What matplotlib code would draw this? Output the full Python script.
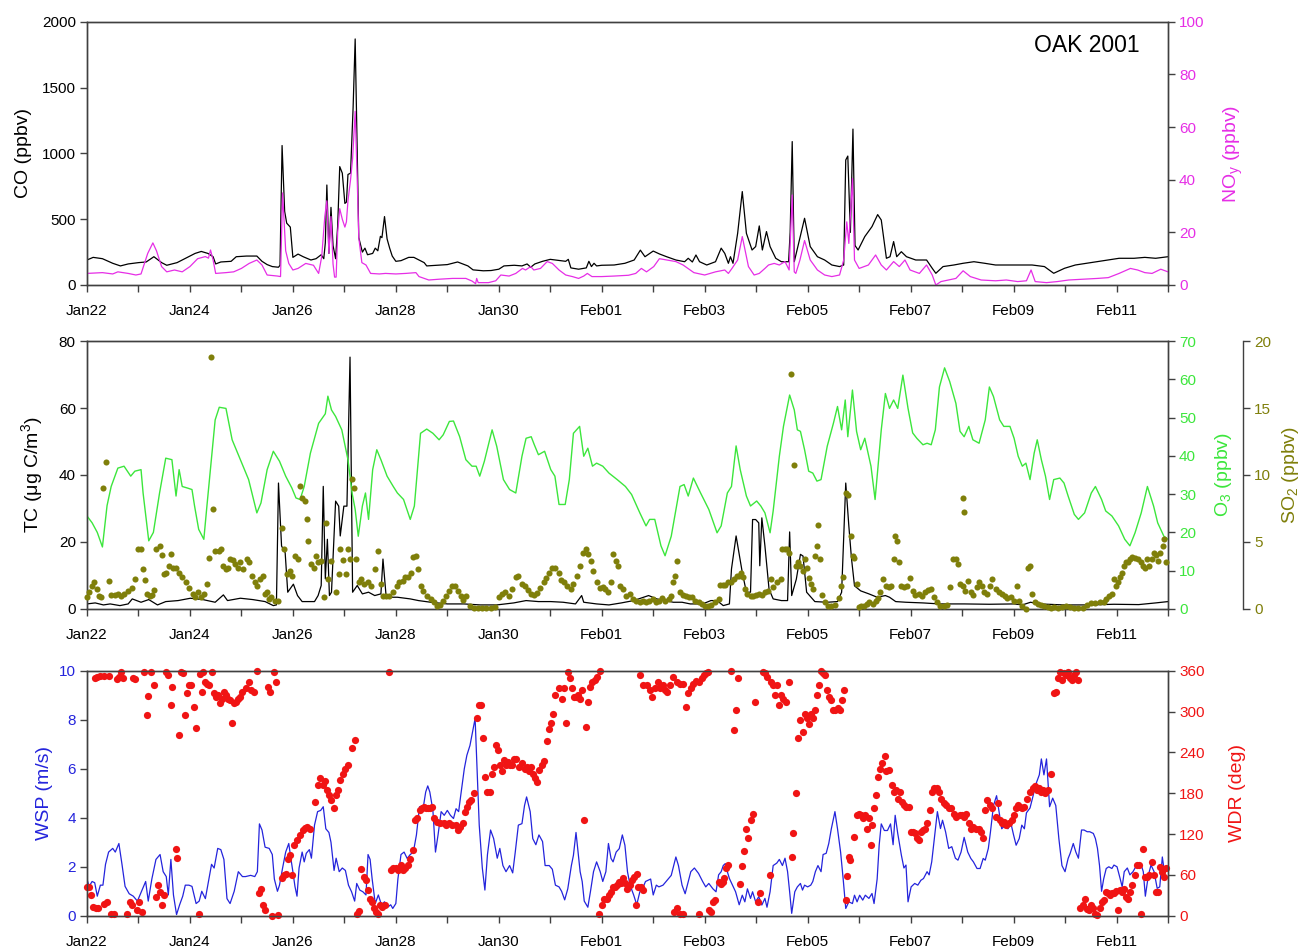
import datetime as dt
import numpy as np
import matplotlib
matplotlib.use("Agg")
import matplotlib.pyplot as plt
import matplotlib.dates as mdates

# --- CONFIGURATION ---
OUTPUT_IMAGE_FILE = "out.png"
START = dt.datetime(2001, 1, 22)
N_DAYS = 21

C_CO = "black"
C_NOY = "#E62EE6"
C_O3 = "#3CE63C"
C_TC = "black"
C_SO2 = "#7F7F0A"
C_WSP = "#2424DC"
C_WDR = "#F01414"
C_SPINE = "#404040"

# (days since Jan22 00:00, value)
CO = [(0.00, 190), (0.12, 210), (0.30, 200), (0.50, 165), (0.65, 145), (0.80, 160), (1.00, 170),
      (1.15, 175), (1.30, 215), (1.45, 170), (1.55, 150), (1.75, 170), (1.90, 200), (2.10, 240),
      (2.22, 255), (2.35, 240), (2.45, 215), (2.50, 160), (2.60, 175), (2.80, 180), (2.90, 215),
      (3.10, 220), (3.30, 220), (3.40, 180), (3.50, 155), (3.60, 140), (3.72, 135), (3.75, 150),
      (3.79, 1060), (3.84, 560), (3.88, 470), (3.95, 440), (4.00, 210), (4.10, 235), (4.20, 215),
      (4.35, 190), (4.45, 200), (4.55, 230), (4.60, 200), (4.63, 320), (4.66, 760), (4.70, 240),
      (4.74, 590), (4.78, 300), (4.83, 200), (4.87, 450), (4.91, 900), (4.96, 850), (5.01, 620),
      (5.04, 630), (5.07, 840), (5.12, 850), (5.17, 1350), (5.21, 1870), (5.25, 1000), (5.28, 360),
      (5.35, 250), (5.40, 280), (5.45, 230), (5.55, 240), (5.60, 280), (5.65, 260), (5.70, 370),
      (5.73, 360), (5.78, 520), (5.83, 350), (5.88, 280), (5.93, 220), (6.00, 180), (6.10, 185),
      (6.25, 210), (6.35, 210), (6.45, 190), (6.55, 170), (6.60, 145), (6.80, 150), (7.00, 155),
      (7.10, 165), (7.20, 175), (7.30, 160), (7.40, 145), (7.50, 115), (7.70, 108), (7.85, 110),
      (8.00, 120), (8.10, 145), (8.30, 150), (8.45, 145), (8.55, 160), (8.62, 135), (8.70, 160),
      (8.85, 180), (9.00, 195), (9.10, 190), (9.20, 185), (9.30, 180), (9.35, 195), (9.40, 130),
      (9.55, 120), (9.70, 130), (9.75, 180), (9.80, 140), (9.85, 165), (9.90, 145), (10.00, 150),
      (10.24, 152), (10.45, 165), (10.63, 190), (10.75, 265), (10.84, 215), (11.00, 258),
      (11.12, 236), (11.26, 215), (11.44, 190), (11.61, 177), (11.68, 203), (11.76, 175),
      (11.83, 228), (11.90, 177), (12.04, 152), (12.21, 177), (12.32, 280), (12.39, 240),
      (12.46, 165), (12.50, 215), (12.55, 165), (12.64, 393), (12.73, 710), (12.81, 393),
      (12.92, 266), (12.99, 292), (13.06, 449), (13.12, 266), (13.20, 406), (13.27, 292),
      (13.38, 203), (13.49, 177), (13.63, 177), (13.66, 400), (13.70, 1090), (13.74, 177),
      (13.87, 393), (13.94, 507), (14.05, 292), (14.19, 215), (14.33, 190), (14.47, 152),
      (14.62, 140), (14.70, 152), (14.74, 950), (14.78, 980), (14.83, 400), (14.88, 1185),
      (14.92, 300), (14.98, 266), (15.11, 368), (15.25, 444), (15.36, 535), (15.43, 494),
      (15.53, 203), (15.60, 215), (15.67, 330), (15.73, 215), (15.82, 253), (15.92, 215),
      (16.10, 190), (16.31, 190), (16.42, 127), (16.49, 89), (16.63, 140), (16.84, 152),
      (17.02, 165), (17.23, 177), (17.44, 165), (17.65, 152), (17.86, 152), (18.14, 152),
      (18.36, 152), (18.60, 140), (18.78, 89), (18.99, 127), (19.20, 152), (19.42, 165),
      (19.63, 177), (19.84, 190), (20.05, 203), (20.34, 203), (20.55, 210), (20.76, 203),
      (21.00, 215)]

NOY = [(0.00, 4.4), (0.30, 4.7), (0.50, 4.2), (0.60, 5.0), (0.80, 4.4), (0.95, 3.8), (1.05, 4.2),
       (1.18, 12), (1.28, 16), (1.35, 13), (1.45, 7), (1.55, 5), (1.70, 5.7), (1.85, 5), (2.00, 7),
       (2.15, 10), (2.30, 10.8), (2.36, 10.2), (2.40, 13.3), (2.45, 9.5), (2.50, 4.4), (2.70, 4.7),
       (2.85, 5), (3.00, 6.3), (3.15, 8.2), (3.30, 9.5), (3.40, 7.6), (3.50, 3.8), (3.70, 3.4),
       (3.76, 3.2), (3.80, 35), (3.86, 13), (3.92, 8.2), (4.00, 5.7), (4.10, 6.3), (4.25, 8.2),
       (4.40, 7.5), (4.50, 4.4), (4.56, 10.8), (4.62, 26), (4.66, 32), (4.70, 12), (4.74, 26),
       (4.78, 8), (4.81, 3), (4.84, 3), (4.87, 20), (4.91, 29), (4.96, 25), (5.01, 22), (5.04, 24),
       (5.07, 32), (5.12, 40), (5.16, 48), (5.21, 66), (5.25, 40), (5.28, 18), (5.34, 8.5),
       (5.42, 7.6), (5.51, 4.4), (5.68, 4.2), (5.80, 4.4), (6.00, 4.2), (6.19, 4.4), (6.39, 4.7),
       (6.45, 3.2), (6.64, 1.9), (6.84, 2.2), (7.10, 2.5), (7.36, 2.5), (7.48, 1.5), (7.55, 0.5),
       (7.57, 2.5), (7.60, 0.9), (7.80, 0.9), (7.94, 1.6), (8.04, 3.8), (8.20, 3.4), (8.33, 4.4),
       (8.46, 6.3), (8.52, 5.7), (8.62, 7), (8.68, 5.7), (8.81, 6.3), (8.94, 8.9), (9.04, 8.2),
       (9.17, 5.7), (9.30, 3.8), (9.43, 3.2), (9.55, 2.5), (9.65, 3.4), (9.72, 4.4), (9.81, 3.2),
       (10.00, 3.2), (10.24, 3.4), (10.52, 3.7), (10.66, 4.4), (10.77, 6.3), (10.87, 5),
       (11.01, 7), (11.12, 10), (11.26, 9.5), (11.44, 8.9), (11.58, 7.6), (11.79, 4.7), (12.00, 3.8),
       (12.21, 5), (12.39, 5.7), (12.46, 4.4), (12.53, 6.3), (12.64, 9.5), (12.73, 18.4),
       (12.85, 7), (12.96, 3.8), (13.06, 4.4), (13.17, 6.3), (13.24, 7.6), (13.35, 8.2),
       (13.45, 7.6), (13.56, 8.9), (13.64, 5.7), (13.70, 34.2), (13.74, 5), (13.77, 4.4),
       (13.85, 9.5), (13.94, 16.9), (14.05, 9.5), (14.19, 5.7), (14.33, 3.8), (14.47, 3.2),
       (14.62, 3.8), (14.70, 9.5), (14.76, 24), (14.80, 15.8), (14.87, 40.5), (14.91, 9.5),
       (15.00, 6.3), (15.18, 7.6), (15.32, 11.4), (15.43, 7.6), (15.53, 5.7), (15.67, 8.9),
       (15.78, 7), (15.89, 9.5), (15.99, 5.7), (16.17, 4.4), (16.31, 7.6), (16.42, 3.8),
       (16.49, 0), (16.59, 1.3), (16.73, 1.9), (16.88, 2.5), (17.02, 5.4), (17.16, 3.2),
       (17.37, 1.9), (17.65, 1.6), (17.86, 1.9), (18.08, 1.3), (18.25, 1.6), (18.34, 5.7),
       (18.42, 1.3), (18.64, 0.9), (18.85, 1.3), (19.07, 1.9), (19.35, 2.2), (19.63, 2.5),
       (19.84, 2.8), (20.05, 4.4), (20.27, 6.3), (20.41, 5.7), (20.55, 4.7), (20.69, 4.4),
       (20.86, 6), (21.00, 5)]

TC = [(0.00, 1.5), (0.16, 1.8), (0.32, 1.2), (0.45, 1.5), (0.64, 1.0), (0.80, 1.5), (0.88, 3.0),
      (1.05, 2.0), (1.20, 2.8), (1.37, 1.2), (1.53, 2.2), (1.77, 2.5), (2.01, 3.2), (2.25, 2.8),
      (2.49, 2.0), (2.65, 4.2), (2.73, 2.5), (2.98, 3.2), (3.22, 2.8), (3.46, 2.2), (3.62, 1.0),
      (3.68, 1.2), (3.72, 37.6), (3.78, 18.8), (3.85, 16.8), (3.90, 5.0), (4.01, 7.4), (4.09, 4.0),
      (4.18, 2.2), (4.42, 2.2), (4.49, 4.0), (4.55, 7.0), (4.59, 36.6), (4.63, 9.0), (4.67, 20.8),
      (4.71, 4.0), (4.75, 5.0), (4.83, 32.2), (4.89, 30.7), (4.92, 21.8), (4.99, 30.7),
      (5.05, 30.7), (5.11, 75.2), (5.16, 5.0), (5.25, 7.0), (5.35, 4.5), (5.47, 5.0), (5.59, 4.0),
      (5.71, 4.5), (5.75, 14.9), (5.81, 4.0), (5.91, 3.5), (6.03, 3.5), (6.28, 3.0), (6.44, 2.5),
      (6.68, 2.0), (7.00, 1.5), (7.32, 1.5), (7.64, 1.2), (7.96, 1.2), (8.29, 1.8), (8.53, 2.5),
      (8.77, 2.2), (9.01, 2.2), (9.25, 2.0), (9.49, 1.5), (9.61, 4.0), (9.65, 2.0), (9.90, 1.5),
      (10.14, 1.2), (10.38, 1.8), (10.62, 2.5), (10.91, 4.0), (11.07, 3.0), (11.23, 2.5),
      (11.39, 2.0), (11.56, 2.0), (11.72, 1.5), (11.96, 1.5), (12.12, 2.5), (12.24, 2.5),
      (12.36, 1.0), (12.48, 1.5), (12.52, 11.9), (12.61, 21.8), (12.73, 10.9), (12.81, 5.0),
      (12.89, 5.0), (12.93, 26.7), (12.99, 26.7), (13.05, 25.7), (13.07, 12.9), (13.11, 27.2),
      (13.17, 18.8), (13.25, 5.9), (13.33, 3.0), (13.49, 2.5), (13.61, 2.5), (13.65, 23.0),
      (13.69, 4.0), (13.78, 8.9), (13.86, 16.3), (13.91, 15.8), (13.98, 5.0), (14.14, 2.2),
      (14.38, 2.0), (14.58, 2.2), (14.66, 5.0), (14.74, 37.6), (14.80, 24.8), (14.85, 15.3),
      (14.91, 6.9), (15.03, 5.4), (15.19, 4.5), (15.35, 3.5), (15.51, 4.0), (15.59, 3.5),
      (15.71, 2.2), (15.91, 2.0), (16.24, 1.8), (16.56, 1.5), (17.04, 1.5), (17.53, 1.4),
      (18.01, 1.5), (18.17, 1.2), (18.33, 2.0), (18.50, 1.5), (18.98, 1.2), (19.47, 1.2),
      (19.95, 1.4), (20.43, 1.3), (20.76, 1.8), (21.00, 2.2)]

O3 = [(0.00, 24.3), (0.10, 22.5), (0.20, 20), (0.30, 16.2), (0.39, 27), (0.47, 32), (0.60, 36.8),
      (0.72, 37.3), (0.85, 34.7), (0.93, 36), (1.05, 36.4), (1.09, 30.3), (1.20, 17.8), (1.29, 20),
      (1.41, 30.3), (1.53, 39.4), (1.65, 39), (1.73, 29.5), (1.79, 36.4), (1.85, 32), (1.95, 31.6),
      (2.04, 31.2), (2.09, 26.9), (2.17, 20.8), (2.27, 18.2), (2.33, 26.9), (2.41, 38.1),
      (2.49, 49.4), (2.57, 52.7), (2.70, 52.4), (2.82, 44.2), (2.98, 39), (3.14, 33.8),
      (3.30, 25.1), (3.38, 27.7), (3.50, 36.4), (3.62, 41.2), (3.74, 38.6), (3.86, 34.7),
      (3.98, 31.6), (4.06, 29), (4.14, 28.6), (4.22, 32), (4.34, 40.7), (4.50, 48.5), (4.63, 51),
      (4.68, 55.6), (4.75, 52), (4.83, 50.3), (4.95, 46.8), (5.07, 39), (5.15, 30.3), (5.21, 26),
      (5.27, 19), (5.35, 26.9), (5.41, 30.3), (5.47, 23.4), (5.55, 36.4), (5.63, 41.6), (5.71, 39),
      (5.83, 34.7), (5.95, 32), (6.03, 30.3), (6.15, 28.6), (6.28, 23.4), (6.36, 26.9),
      (6.48, 45.9), (6.60, 47), (6.72, 45.9), (6.84, 44.2), (6.92, 45.5), (7.04, 49), (7.12, 49.1),
      (7.24, 45), (7.36, 39), (7.48, 37.3), (7.56, 37.3), (7.63, 34.7), (7.72, 38.6), (7.87, 46.8),
      (7.96, 42.5), (8.09, 33.8), (8.21, 31.2), (8.33, 30.3), (8.45, 39.9), (8.53, 44.6),
      (8.63, 45), (8.69, 42.9), (8.77, 40.3), (8.89, 41.2), (9.01, 36.4), (9.09, 34.7),
      (9.17, 27.3), (9.29, 27.3), (9.37, 33.8), (9.45, 45.9), (9.57, 47.7), (9.65, 39.9),
      (9.73, 42), (9.82, 37.3), (9.90, 38.1), (10.02, 37.3), (10.14, 35.5), (10.30, 33.8),
      (10.46, 32), (10.58, 29.9), (10.74, 25.1), (10.86, 21.7), (10.93, 23.4), (11.03, 23.4),
      (11.15, 16.5), (11.23, 13.9), (11.35, 19), (11.52, 32), (11.60, 32.5), (11.68, 29.5),
      (11.78, 34.2), (11.92, 30.3), (12.08, 26), (12.24, 19.9), (12.32, 21.7), (12.44, 30.3),
      (12.52, 32), (12.61, 42.6), (12.69, 36.4), (12.81, 29.5), (12.89, 26.9), (13.01, 28.2),
      (13.09, 26.9), (13.17, 25.1), (13.27, 19.9), (13.33, 25.6), (13.45, 39.9), (13.53, 47.7),
      (13.65, 55.9), (13.74, 52), (13.80, 46.8), (13.86, 46.4), (13.94, 41.6), (14.02, 36),
      (14.10, 35.5), (14.18, 33.4), (14.26, 33.8), (14.38, 42.5), (14.50, 48.5), (14.58, 52.9),
      (14.66, 46.8), (14.73, 54.6), (14.78, 45), (14.87, 57.2), (14.95, 46.4), (15.03, 41.6),
      (15.11, 44.6), (15.23, 37.3), (15.31, 28.6), (15.43, 46.8), (15.51, 56.3), (15.59, 52.4),
      (15.67, 54.6), (15.75, 52.4), (15.85, 61.1), (15.95, 52.4), (16.04, 46), (16.12, 44.6),
      (16.24, 42.9), (16.32, 43.3), (16.40, 42.9), (16.48, 46.8), (16.56, 58), (16.66, 63),
      (16.76, 59.4), (16.88, 53.7), (16.96, 46.4), (17.04, 45), (17.13, 47.7), (17.21, 44.2),
      (17.33, 43.3), (17.45, 49.4), (17.53, 58), (17.61, 55.5), (17.73, 49.4), (17.81, 47.7),
      (17.93, 47.7), (18.01, 44.6), (18.09, 39.9), (18.17, 37.3), (18.24, 38.1), (18.32, 33.8),
      (18.40, 40.7), (18.46, 44.2), (18.54, 39), (18.62, 34.7), (18.70, 28.6), (18.78, 33.8),
      (18.90, 34.2), (18.98, 32.9), (19.06, 29.5), (19.18, 24.7), (19.26, 23.4), (19.38, 25.1),
      (19.51, 30.3), (19.59, 32), (19.71, 28.6), (19.79, 25.6), (19.91, 24.3), (20.04, 21.7),
      (20.16, 18.2), (20.26, 16.5), (20.36, 19.9), (20.48, 25.1), (20.60, 32), (20.72, 26.9),
      (20.80, 22.5), (20.92, 19), (21.00, 18.2)]

SO2 = [(0.00, 0.87), (0.04, 1.24), (0.10, 1.73), (0.14, 1.98), (0.20, 1.49), (0.24, 0.99),
       (0.28, 0.87), (0.32, 9.03), (0.37, 10.94), (0.42, 2.10), (0.47, 1.04), (0.55, 1.04),
       (0.60, 1.11), (0.66, 0.99), (0.72, 1.11), (0.80, 1.36), (0.87, 1.53), (0.93, 2.23),
       (0.99, 4.50), (1.05, 4.46), (1.09, 2.97), (1.13, 2.18), (1.17, 1.11), (1.22, 0.99),
       (1.27, 1.04), (1.30, 1.44), (1.35, 4.46), (1.41, 4.70), (1.46, 4.01), (1.49, 2.60),
       (1.53, 2.72), (1.59, 3.22), (1.63, 4.08), (1.67, 3.09), (1.73, 3.09), (1.79, 2.72),
       (1.85, 2.35), (1.93, 1.98), (1.99, 1.53), (2.05, 1.11), (2.09, 0.87), (2.16, 1.24),
       (2.21, 0.87), (2.27, 1.11), (2.33, 1.86), (2.37, 3.84), (2.41, 18.81), (2.45, 7.48),
       (2.49, 4.33), (2.56, 4.33), (2.61, 4.46), (2.65, 3.22), (2.70, 2.97), (2.74, 3.09),
       (2.78, 3.71), (2.83, 3.66), (2.88, 3.34), (2.94, 3.09), (2.98, 3.47), (3.04, 2.97),
       (3.10, 3.71), (3.14, 3.47), (3.20, 2.48), (3.26, 1.98), (3.30, 1.73), (3.36, 2.23),
       (3.42, 2.48), (3.46, 1.11), (3.50, 1.24), (3.54, 0.74), (3.58, 0.87), (3.66, 0.62),
       (3.72, 0.62), (3.78, 6.06), (3.83, 4.46), (3.88, 2.60), (3.94, 2.85), (3.98, 2.48),
       (4.04, 3.96), (4.09, 3.71), (4.14, 9.16), (4.18, 8.29), (4.23, 8.04), (4.28, 6.68),
       (4.30, 5.07), (4.36, 3.34), (4.41, 3.09), (4.44, 3.96), (4.49, 3.47), (4.55, 3.59),
       (4.60, 0.87), (4.65, 6.39), (4.68, 2.23), (4.75, 3.59), (4.83, 1.24), (4.89, 2.60),
       (4.92, 4.46), (4.97, 3.66), (5.03, 2.60), (5.07, 4.46), (5.11, 3.71), (5.15, 9.70),
       (5.19, 9.03), (5.23, 3.71), (5.29, 1.98), (5.33, 2.23), (5.39, 1.86), (5.45, 1.98),
       (5.51, 1.68), (5.59, 2.97), (5.65, 4.33), (5.71, 1.86), (5.75, 0.99), (5.81, 0.94),
       (5.87, 0.99), (5.95, 1.24), (6.02, 1.73), (6.07, 1.98), (6.13, 2.10), (6.18, 2.35),
       (6.23, 2.35), (6.29, 2.72), (6.34, 3.91), (6.40, 3.96), (6.44, 2.97), (6.48, 1.73),
       (6.53, 1.36), (6.60, 0.99), (6.68, 0.74), (6.74, 0.50), (6.80, 0.25), (6.85, 0.30),
       (6.92, 0.62), (6.98, 0.99), (7.04, 1.36), (7.10, 1.73), (7.14, 1.73), (7.20, 1.36),
       (7.26, 0.99), (7.30, 0.69), (7.36, 0.99), (7.44, 0.25), (7.52, 0.05), (7.60, 0.05),
       (7.68, 0.05), (7.76, 0.05), (7.84, 0.05), (7.92, 0.12), (8.00, 0.87), (8.06, 1.11),
       (8.13, 1.24), (8.19, 0.94), (8.25, 1.49), (8.33, 2.35), (8.38, 2.48), (8.45, 1.86),
       (8.51, 1.73), (8.57, 1.44), (8.62, 1.11), (8.69, 1.04), (8.75, 1.19), (8.81, 1.53),
       (8.87, 1.98), (8.91, 2.28), (8.97, 2.72), (9.03, 3.09), (9.09, 3.09), (9.16, 2.72),
       (9.21, 2.18), (9.27, 1.98), (9.33, 1.73), (9.40, 1.49), (9.45, 1.86), (9.51, 2.48),
       (9.57, 3.22), (9.64, 4.21), (9.69, 4.46), (9.73, 4.08), (9.80, 3.59), (9.83, 2.85),
       (9.90, 1.98), (9.96, 1.53), (10.02, 1.61), (10.06, 1.49), (10.12, 1.24), (10.18, 1.98),
       (10.22, 4.08), (10.27, 3.59), (10.31, 3.22), (10.36, 1.73), (10.42, 1.49), (10.47, 0.99),
       (10.54, 1.11), (10.60, 0.74), (10.66, 0.62), (10.74, 0.54), (10.80, 0.62), (10.86, 0.54),
       (10.91, 0.62), (10.99, 0.74), (11.06, 0.54), (11.11, 0.62), (11.18, 0.79), (11.23, 0.62),
       (11.30, 0.74), (11.35, 0.94), (11.39, 1.98), (11.43, 2.48), (11.47, 3.59), (11.52, 1.24),
       (11.57, 1.04), (11.64, 0.99), (11.70, 0.87), (11.76, 0.87), (11.81, 0.62), (11.88, 0.50),
       (11.94, 0.37), (12.00, 0.25), (12.06, 0.20), (12.12, 0.30), (12.20, 0.50), (12.27, 0.74),
       (12.30, 1.78), (12.35, 1.78), (12.40, 1.78), (12.46, 1.98), (12.52, 1.98), (12.56, 2.23),
       (12.62, 2.48), (12.67, 2.48), (12.70, 2.72), (12.75, 2.35), (12.78, 1.49), (12.83, 1.11),
       (12.89, 0.99), (12.94, 0.99), (12.99, 1.04), (13.05, 1.11), (13.11, 1.04), (13.17, 1.24),
       (13.23, 1.36), (13.29, 2.23), (13.33, 1.61), (13.41, 1.98), (13.48, 2.23), (13.51, 4.46),
       (13.56, 4.46), (13.60, 4.46), (13.64, 4.21), (13.67, 17.57), (13.73, 10.77), (13.78, 3.22),
       (13.82, 3.47), (13.86, 3.22), (13.90, 2.85), (13.94, 3.76), (13.98, 3.02), (14.02, 2.28),
       (14.06, 1.86), (14.10, 1.49), (14.14, 3.96), (14.18, 4.70), (14.20, 6.24), (14.24, 3.71),
       (14.28, 1.04), (14.34, 0.54), (14.40, 0.25), (14.46, 0.20), (14.54, 0.30), (14.61, 0.79),
       (14.64, 1.73), (14.69, 2.35), (14.74, 8.66), (14.78, 8.54), (14.85, 5.45), (14.88, 3.96),
       (14.91, 3.84), (14.95, 1.86), (14.99, 0.12), (15.04, 0.20), (15.09, 0.25), (15.15, 0.37),
       (15.20, 0.50), (15.27, 0.37), (15.32, 0.62), (15.37, 0.79), (15.41, 1.24), (15.47, 2.23),
       (15.53, 1.73), (15.58, 1.61), (15.62, 1.73), (15.67, 3.71), (15.70, 5.45), (15.74, 5.07),
       (15.77, 3.51), (15.82, 1.73), (15.87, 1.61), (15.93, 1.73), (15.98, 2.28), (16.04, 1.36),
       (16.09, 1.04), (16.16, 1.11), (16.22, 0.99), (16.28, 1.24), (16.33, 1.44), (16.40, 1.49),
       (16.46, 0.87), (16.52, 0.50), (16.58, 0.25), (16.64, 0.20), (16.71, 0.30), (16.77, 1.61),
       (16.82, 3.76), (16.88, 3.76), (16.92, 3.34), (16.96, 1.86), (17.01, 1.73), (17.02, 8.29),
       (17.03, 7.23), (17.06, 1.36), (17.11, 2.10), (17.17, 1.24), (17.22, 1.04), (17.29, 1.61),
       (17.33, 1.98), (17.38, 1.73), (17.43, 1.24), (17.49, 1.11), (17.54, 1.73), (17.59, 2.23),
       (17.65, 1.49), (17.71, 1.24), (17.77, 1.11), (17.83, 0.99), (17.88, 0.79), (17.95, 0.87),
       (18.01, 0.62), (18.06, 1.73), (18.11, 0.62), (18.17, 0.25), (18.24, 0.00), (18.29, 3.09),
       (18.32, 3.22), (18.35, 1.11), (18.42, 0.54), (18.48, 0.37), (18.54, 0.30), (18.59, 0.25),
       (18.66, 0.12), (18.72, 0.05), (18.78, 0.12), (18.86, 0.05), (18.94, 0.12), (19.02, 0.25),
       (19.10, 0.12), (19.18, 0.05), (19.26, 0.05), (19.34, 0.10), (19.42, 0.30), (19.51, 0.45),
       (19.59, 0.45), (19.67, 0.50), (19.75, 0.54), (19.79, 0.74), (19.85, 0.94), (19.91, 1.11),
       (19.95, 2.23), (19.99, 1.73), (20.03, 1.98), (20.07, 2.35), (20.11, 2.67), (20.15, 3.22),
       (20.19, 3.47), (20.23, 3.51), (20.27, 3.71), (20.31, 3.91), (20.35, 3.84), (20.42, 3.71),
       (20.47, 3.51), (20.51, 3.22), (20.55, 3.09), (20.59, 3.71), (20.64, 3.22), (20.68, 3.76),
       (20.72, 4.21), (20.76, 4.01), (20.80, 3.59), (20.85, 4.21), (20.90, 4.70), (20.93, 5.20),
       (20.97, 3.47)]

WSP = [(0.00, 1.5), (0.04, 1.2), (0.10, 1.4), (0.15, 1.35), (0.20, 0.8), (0.26, 1.25), (0.31, 1.25),
       (0.36, 2.1), (0.42, 2.6), (0.50, 2.75), (0.55, 2.6), (0.62, 2.95), (0.68, 2.1), (0.74, 1.2),
       (0.82, 0.9), (0.90, 0.8), (0.98, 0.6), (1.06, 1.0), (1.14, 1.4), (1.19, 0.6), (1.26, 1.5),
       (1.34, 2.3), (1.42, 2.5), (1.48, 1.8), (1.54, 1.6), (1.58, 0.85), (1.63, 2.3), (1.68, 0.85),
       (1.74, 0.05), (1.80, 0.45), (1.86, 0.8), (1.91, 1.25), (1.98, 1.25), (2.04, 1.2),
       (2.12, 0.5), (2.18, 0.6), (2.23, 1.0), (2.30, 0.7), (2.36, 1.4), (2.42, 2.1), (2.47, 1.95),
       (2.54, 2.75), (2.60, 2.7), (2.66, 2.3), (2.72, 0.7), (2.78, 0.5), (2.86, 1.0), (2.94, 1.8),
       (3.02, 1.6), (3.08, 1.6), (3.18, 1.65), (3.26, 1.6), (3.31, 1.8), (3.35, 3.75), (3.40, 3.5),
       (3.46, 2.8), (3.54, 2.75), (3.60, 2.5), (3.64, 1.5), (3.70, 1.0), (3.74, 1.25), (3.80, 1.95),
       (3.86, 2.6), (3.92, 2.95), (3.96, 2.35), (4.00, 1.8), (4.04, 1.2), (4.08, 0.8), (4.12, 1.95),
       (4.18, 2.6), (4.22, 2.2), (4.26, 2.55), (4.32, 2.7), (4.36, 2.35), (4.42, 3.7), (4.48, 4.25),
       (4.54, 4.3), (4.59, 4.45), (4.64, 3.55), (4.70, 3.4), (4.74, 3.0), (4.80, 1.85),
       (4.84, 2.35), (4.90, 1.8), (4.96, 1.95), (5.02, 1.85), (5.08, 1.25), (5.14, 0.98),
       (5.20, 0.6), (5.24, 1.32), (5.30, 1.05), (5.36, 0.98), (5.42, 0.85), (5.46, 2.5), (5.50, 2.3),
       (5.54, 1.5), (5.60, 0.5), (5.66, 0.85), (5.72, 0.45), (5.78, 0.57), (5.84, 0.35), (5.90, 0.45),
       (5.94, 0.3), (6.00, 0.5), (6.04, 1.5), (6.10, 2.5), (6.16, 2.6), (6.22, 2.34), (6.28, 2.5),
       (6.34, 2.6), (6.40, 3.3), (6.46, 4.45), (6.52, 4.25), (6.58, 5.05), (6.62, 5.3), (6.66, 5.05),
       (6.72, 4.3), (6.77, 2.6), (6.82, 3.3), (6.88, 4.25), (6.94, 4.1), (7.00, 4.3), (7.06, 4.1),
       (7.12, 3.97), (7.17, 4.37), (7.22, 4.25), (7.26, 4.9), (7.33, 6.0), (7.38, 6.55),
       (7.44, 6.95), (7.49, 7.5), (7.54, 8.05), (7.58, 5.9), (7.62, 3.7), (7.68, 1.95), (7.73, 1.05),
       (7.78, 2.5), (7.84, 3.5), (7.90, 3.15), (7.97, 2.35), (8.02, 2.75), (8.08, 2.05), (8.14, 1.8),
       (8.21, 2.05), (8.27, 1.75), (8.32, 2.6), (8.38, 3.7), (8.45, 3.76), (8.50, 4.5), (8.54, 4.85),
       (8.61, 4.25), (8.66, 3.15), (8.72, 2.9), (8.78, 3.3), (8.85, 3.03), (8.90, 2.05),
       (8.98, 2.05), (9.04, 1.9), (9.10, 1.25), (9.17, 1.18), (9.22, 1.0), (9.28, 0.65), (9.34, 1.1),
       (9.41, 2.05), (9.45, 2.47), (9.50, 3.4), (9.54, 2.6), (9.58, 1.8), (9.62, 1.4), (9.66, 0.6),
       (9.73, 0.35), (9.78, 0.98), (9.84, 1.8), (9.90, 2.2), (9.97, 1.8), (10.02, 1.4), (10.08, 1.8),
       (10.13, 2.95), (10.18, 2.34), (10.22, 2.2), (10.28, 2.6), (10.34, 2.74), (10.40, 3.3),
       (10.45, 2.88), (10.50, 1.8), (10.55, 1.25), (10.62, 0.85), (10.68, 0.45), (10.74, 0.98),
       (10.79, 1.1), (10.85, 1.4), (10.95, 1.5), (11.00, 0.85), (11.06, 1.25), (11.11, 1.18),
       (11.19, 1.25), (11.27, 1.45), (11.35, 1.65), (11.44, 2.4), (11.49, 2.05), (11.56, 1.25),
       (11.62, 0.9), (11.68, 1.4), (11.73, 1.8), (11.80, 1.95), (11.88, 1.73), (11.96, 1.4),
       (12.02, 1.18), (12.08, 1.32), (12.16, 1.1), (12.22, 0.98), (12.27, 1.67), (12.32, 1.8),
       (12.36, 2.05), (12.40, 2.13), (12.44, 1.8), (12.48, 1.52), (12.54, 1.25), (12.60, 0.98),
       (12.67, 0.45), (12.73, 0.84), (12.78, 0.57), (12.83, 1.1), (12.89, 0.71), (12.93, 0.98),
       (12.99, 0.57), (13.05, 0.78), (13.11, 0.44), (13.17, 0.71), (13.21, 0.35), (13.27, 0.98),
       (13.33, 2.05), (13.40, 2.15), (13.45, 2.3), (13.51, 2.05), (13.56, 2.35), (13.61, 1.8),
       (13.65, 0.98), (13.69, 0.1), (13.75, 0.98), (13.80, 1.18), (13.86, 1.32), (13.90, 1.05),
       (13.94, 1.25), (14.00, 1.18), (14.06, 1.25), (14.10, 1.4), (14.15, 1.8), (14.20, 2.05),
       (14.26, 1.8), (14.30, 2.5), (14.36, 2.55), (14.41, 2.95), (14.46, 3.55), (14.53, 4.25),
       (14.58, 3.55), (14.64, 2.6), (14.69, 1.5), (14.74, 0.3), (14.80, 0.57), (14.87, 0.5),
       (14.91, 0.84), (14.96, 0.57), (15.01, 0.84), (15.07, 0.64), (15.12, 0.84), (15.19, 0.71),
       (15.25, 0.91), (15.29, 0.5), (15.35, 1.5), (15.39, 2.9), (15.43, 3.75), (15.49, 3.48),
       (15.55, 3.48), (15.61, 3.75), (15.66, 2.9), (15.70, 4.1), (15.75, 3.36), (15.82, 2.48),
       (15.87, 1.95), (15.91, 2.07), (15.95, 0.57), (16.01, 1.18), (16.08, 1.32), (16.14, 1.25),
       (16.20, 1.45), (16.25, 1.52), (16.32, 1.8), (16.36, 1.67), (16.41, 2.2), (16.46, 3.15),
       (16.52, 4.25), (16.58, 3.56), (16.62, 3.9), (16.68, 3.42), (16.74, 2.75), (16.80, 2.82),
       (16.87, 2.35), (16.92, 2.27), (16.98, 2.6), (17.04, 3.2), (17.11, 2.6), (17.17, 2.34),
       (17.22, 2.2), (17.29, 1.93), (17.35, 1.93), (17.41, 2.34), (17.45, 2.27), (17.51, 2.75),
       (17.55, 3.4), (17.61, 4.5), (17.67, 4.9), (17.73, 4.1), (17.77, 3.55), (17.84, 3.7),
       (17.89, 3.55), (17.95, 3.76), (18.00, 3.3), (18.05, 2.88), (18.11, 3.15), (18.16, 3.7),
       (18.21, 3.55), (18.25, 4.2), (18.32, 4.4), (18.38, 4.9), (18.43, 5.35), (18.50, 5.75),
       (18.54, 6.4), (18.59, 5.75), (18.64, 6.4), (18.70, 4.45), (18.76, 4.8), (18.82, 4.5),
       (18.88, 3.15), (18.94, 2.05), (19.00, 1.8), (19.06, 2.34), (19.10, 2.55), (19.16, 2.95),
       (19.21, 2.6), (19.26, 2.35), (19.32, 3.5), (19.37, 3.5), (19.43, 3.43), (19.48, 3.43),
       (19.55, 3.36), (19.59, 3.15), (19.63, 2.75), (19.67, 2.05), (19.71, 1.0), (19.75, 1.5),
       (19.80, 1.93), (19.85, 2.0), (19.91, 1.93), (19.95, 2.07), (20.01, 2.0), (20.07, 1.52),
       (20.11, 1.18), (20.15, 1.8), (20.21, 1.95), (20.26, 1.67), (20.32, 1.8), (20.36, 1.95),
       (20.42, 2.07), (20.48, 2.07), (20.52, 1.8), (20.56, 0.8), (20.62, 1.67), (20.67, 2.07),
       (20.73, 1.8), (20.79, 1.12), (20.84, 1.18), (20.89, 2.4), (20.93, 1.8), (20.99, 1.93)]

WDR = [(0.00, 43), (0.04, 43), (0.07, 31), (0.12, 13), (0.15, 350), (0.18, 12), (0.20, 351),
       (0.22, 11), (0.26, 352), (0.34, 352), (0.34, 18), (0.38, 20), (0.42, 352), (0.46, 3),
       (0.52, 2), (0.58, 348), (0.62, 351), (0.66, 358), (0.70, 349), (0.78, 2), (0.84, 21),
       (0.87, 16), (0.90, 349), (0.94, 348), (0.98, 8), (1.02, 21), (1.06, 6), (1.10, 358),
       (1.16, 295), (1.19, 323), (1.24, 358), (1.30, 339), (1.34, 28), (1.38, 45), (1.42, 35),
       (1.46, 16), (1.50, 30), (1.54, 358), (1.58, 354), (1.64, 309), (1.66, 336), (1.72, 98),
       (1.75, 85), (1.79, 265), (1.82, 358), (1.86, 356), (1.90, 295), (1.94, 327), (1.98, 339),
       (2.02, 339), (2.07, 307), (2.12, 276), (2.17, 2), (2.20, 355), (2.23, 329), (2.26, 358),
       (2.30, 344), (2.34, 341), (2.38, 339), (2.42, 358), (2.46, 327), (2.50, 322), (2.54, 324),
       (2.58, 312), (2.62, 319), (2.66, 329), (2.70, 324), (2.74, 319), (2.78, 317), (2.82, 283),
       (2.86, 312), (2.90, 314), (2.94, 319), (2.98, 322), (3.02, 329), (3.08, 334), (3.14, 344),
       (3.19, 332), (3.24, 329), (3.30, 360), (3.34, 33), (3.38, 40), (3.42, 16), (3.46, 8),
       (3.51, 336), (3.56, 329), (3.59, 0), (3.64, 358), (3.67, 344), (3.72, 1), (3.78, 55),
       (3.82, 60), (3.86, 62), (3.90, 84), (3.94, 89), (3.98, 60), (4.03, 104), (4.08, 111),
       (4.14, 119), (4.20, 126), (4.24, 129), (4.28, 131), (4.34, 128), (4.42, 167), (4.48, 192),
       (4.52, 202), (4.58, 192), (4.62, 198), (4.66, 185), (4.70, 177), (4.75, 170), (4.80, 158),
       (4.84, 177), (4.88, 185), (4.92, 199), (4.98, 208), (5.02, 216), (5.08, 221), (5.14, 246),
       (5.20, 258), (5.24, 3), (5.28, 7), (5.32, 69), (5.38, 57), (5.42, 52), (5.46, 38), (5.50, 25),
       (5.54, 21), (5.58, 11), (5.62, 6), (5.66, 2), (5.70, 16), (5.74, 13), (5.78, 16), (5.86, 358),
       (5.90, 67), (5.94, 70), (6.00, 70), (6.04, 67), (6.10, 74), (6.14, 67), (6.18, 70), (6.24, 74),
       (6.28, 84), (6.34, 96), (6.38, 141), (6.42, 143), (6.46, 155), (6.50, 158), (6.54, 160),
       (6.58, 159), (6.62, 158), (6.66, 158), (6.70, 160), (6.74, 143), (6.80, 138), (6.86, 136),
       (6.93, 136), (6.98, 133), (7.04, 136), (7.10, 133), (7.17, 133), (7.20, 126), (7.25, 131),
       (7.30, 136), (7.34, 153), (7.38, 160), (7.42, 167), (7.46, 170), (7.52, 180), (7.57, 290),
       (7.61, 310), (7.65, 310), (7.70, 261), (7.74, 204), (7.78, 182), (7.82, 182), (7.86, 209),
       (7.90, 219), (7.94, 251), (7.98, 243), (8.02, 222), (8.06, 212), (8.10, 229), (8.14, 221),
       (8.18, 226), (8.22, 221), (8.26, 221), (8.30, 231), (8.34, 231), (8.40, 219), (8.45, 224),
       (8.50, 216), (8.54, 219), (8.58, 212), (8.62, 219), (8.66, 209), (8.70, 202), (8.74, 197),
       (8.78, 214), (8.83, 221), (8.88, 227), (8.93, 257), (8.98, 275), (9.02, 283), (9.06, 297),
       (9.10, 324), (9.17, 334), (9.22, 319), (9.26, 334), (9.30, 283), (9.34, 358), (9.38, 349),
       (9.42, 334), (9.46, 322), (9.50, 322), (9.54, 324), (9.58, 319), (9.62, 332), (9.66, 141),
       (9.70, 278), (9.74, 314), (9.78, 336), (9.82, 344), (9.86, 346), (9.90, 351), (9.94, 2),
       (9.97, 360), (10.00, 16), (10.05, 25), (10.10, 25), (10.14, 30), (10.18, 35), (10.22, 43),
       (10.26, 43), (10.30, 45), (10.34, 50), (10.38, 48), (10.42, 55), (10.46, 48), (10.50, 40),
       (10.54, 45), (10.58, 52), (10.62, 57), (10.66, 16), (10.68, 62), (10.71, 43), (10.74, 353),
       (10.76, 43), (10.80, 38), (10.80, 339), (10.87, 339), (10.93, 331), (10.98, 322),
       (11.03, 335), (11.09, 344), (11.14, 334), (11.19, 339), (11.23, 331), (11.27, 329),
       (11.33, 339), (11.39, 351), (11.41, 5), (11.46, 344), (11.46, 12), (11.52, 341), (11.52, 3),
       (11.57, 340), (11.57, 2), (11.64, 306), (11.68, 327), (11.73, 334), (11.78, 340),
       (11.84, 345), (11.88, 344), (11.88, 2), (11.94, 350), (11.98, 354), (12.02, 356),
       (12.06, 358), (12.08, 8), (12.12, 6), (12.16, 21), (12.20, 23), (12.27, 49), (12.31, 47),
       (12.35, 50), (12.38, 55), (12.42, 70), (12.46, 74), (12.51, 360), (12.57, 273), (12.61, 302),
       (12.65, 349), (12.69, 47), (12.73, 73), (12.77, 95), (12.81, 128), (12.85, 115), (12.89, 141),
       (12.93, 150), (12.97, 314), (13.03, 21), (13.07, 33), (13.13, 358), (13.17, 356),
       (13.21, 351), (13.27, 60), (13.29, 344), (13.33, 339), (13.37, 324), (13.41, 339),
       (13.45, 309), (13.49, 324), (13.53, 319), (13.57, 314), (13.64, 344), (13.70, 87),
       (13.72, 122), (13.78, 181), (13.82, 261), (13.86, 287), (13.90, 270), (13.94, 297),
       (13.98, 290), (14.02, 281), (14.06, 297), (14.10, 290), (14.14, 302), (14.18, 324),
       (14.22, 339), (14.26, 360), (14.30, 356), (14.34, 353), (14.38, 331), (14.42, 322),
       (14.46, 317), (14.50, 302), (14.54, 302), (14.58, 305), (14.62, 302), (14.66, 317),
       (14.70, 331), (14.74, 23), (14.77, 59), (14.80, 87), (14.83, 82), (14.91, 116), (14.95, 148),
       (14.99, 150), (15.03, 148), (15.07, 143), (15.11, 148), (15.15, 128), (15.19, 143),
       (15.23, 104), (15.25, 133), (15.29, 158), (15.33, 177), (15.37, 204), (15.41, 216),
       (15.45, 224), (15.50, 234), (15.53, 212), (15.58, 214), (15.63, 192), (15.67, 182),
       (15.71, 185), (15.75, 172), (15.79, 182), (15.83, 167), (15.87, 163), (15.91, 160),
       (15.96, 160), (16.00, 123), (16.04, 123), (16.08, 121), (16.12, 114), (16.16, 111),
       (16.20, 123), (16.24, 126), (16.28, 128), (16.32, 136), (16.38, 155), (16.42, 182),
       (16.46, 187), (16.52, 187), (16.56, 182), (16.60, 172), (16.64, 165), (16.68, 163),
       (16.74, 158), (16.79, 158), (16.84, 150), (16.88, 145), (16.95, 148), (17.00, 148),
       (17.04, 145), (17.08, 150), (17.13, 136), (17.17, 128), (17.21, 131), (17.27, 128),
       (17.33, 128), (17.37, 123), (17.41, 114), (17.45, 155), (17.49, 170), (17.55, 163),
       (17.59, 158), (17.65, 145), (17.69, 165), (17.73, 141), (17.77, 136), (17.81, 138),
       (17.85, 133), (17.92, 136), (17.97, 141), (18.01, 148), (18.05, 158), (18.09, 163),
       (18.13, 160), (18.17, 158), (18.21, 160), (18.26, 172), (18.32, 182), (18.38, 187),
       (18.42, 190), (18.46, 185), (18.50, 187), (18.54, 182), (18.58, 185), (18.62, 180),
       (18.66, 185), (18.72, 209), (18.78, 327), (18.82, 329), (18.86, 349), (18.90, 358),
       (18.94, 346), (18.98, 356), (19.02, 354), (19.06, 358), (19.10, 350), (19.14, 346),
       (19.18, 354), (19.22, 358), (19.26, 346), (19.30, 11), (19.34, 16), (19.39, 25), (19.43, 10),
       (19.47, 8), (19.51, 16), (19.55, 11), (19.59, 3), (19.63, 1), (19.67, 11), (19.71, 21),
       (19.75, 23), (19.79, 35), (19.83, 33), (19.87, 30), (19.91, 33), (19.95, 33), (19.99, 36),
       (20.03, 8), (20.07, 38), (20.11, 35), (20.15, 40), (20.19, 28), (20.23, 25), (20.27, 35),
       (20.31, 45), (20.35, 60), (20.39, 74), (20.43, 74), (20.47, 3), (20.51, 98), (20.56, 57),
       (20.60, 57), (20.64, 60), (20.68, 79), (20.72, 60), (20.76, 35), (20.80, 35), (20.84, 72),
       (20.88, 65), (20.92, 57), (20.96, 70)]

TICK_FS = 11
LABEL_FS = 14

plt.rcParams["font.family"] = ["Liberation Sans", "DejaVu Sans"]
plt.rcParams["mathtext.fontset"] = "custom"
plt.rcParams["mathtext.rm"] = "Liberation Sans"
plt.rcParams["mathtext.it"] = "Liberation Sans:italic"
plt.rcParams["axes.linewidth"] = 1.0

BASE = mdates.date2num(START)


def xy(pts):
    d = np.array([p[0] for p in pts], dtype=float)
    v = np.array([p[1] for p in pts], dtype=float)
    return BASE + d, v


def style_axis(ax, color, ticks, lim):
    ax.set_ylim(*lim)
    ax.set_yticks(ticks)
    ax.tick_params(axis="y", which="both", direction="out", length=5, width=1,
                   colors=C_SPINE, labelcolor=color, labelsize=TICK_FS, pad=3)
    for s in ax.spines.values():
        s.set_color(C_SPINE)


def style_time(ax):
    ax.set_xlim(BASE, BASE + N_DAYS)
    ax.xaxis.set_major_locator(plt.FixedLocator(BASE + np.arange(0, N_DAYS, 2)))
    ax.xaxis.set_minor_locator(plt.FixedLocator(BASE + np.arange(0, N_DAYS + 1, 1)))
    ax.xaxis.set_major_formatter(mdates.DateFormatter("%b%d"))
    ax.tick_params(axis="x", which="both", direction="out", length=5, width=1,
                   colors=C_SPINE, labelcolor="black", labelsize=TICK_FS, pad=9)


def main():
    fig = plt.figure(figsize=(13.04, 9.5), dpi=100)
    left, width = 0.0667, 0.829

    # panel 1: CO and NOy
    ax1 = fig.add_axes([left, 0.700, width, 0.277])
    ax1b = ax1.twinx()
    x, v = xy(CO)
    ax1.plot(x, v, color=C_CO, lw=0.9)
    x, v = xy(NOY)
    ax1b.plot(x, v, color=C_NOY, lw=0.9)
    style_time(ax1)
    style_axis(ax1, "black", np.arange(0, 2001, 500), (0, 2000))
    style_axis(ax1b, C_NOY, np.arange(0, 101, 20), (0, 100))
    ax1.set_ylabel("CO (ppbv)", fontsize=LABEL_FS)
    ax1.yaxis.set_label_coords(-0.051, 0.5)
    ax1b.set_ylabel(r"NO$_\mathrm{y}$ (ppbv)", fontsize=LABEL_FS, color=C_NOY)
    ax1b.yaxis.set_label_coords(1.050, 0.5)
    ax1.text(0.974, 0.91, "OAK 2001", transform=ax1.transAxes, fontsize=16.5,
             ha="right", va="center")

    # panel 2: TC, O3 and SO2
    ax2 = fig.add_axes([left, 0.359, width, 0.282])
    ax2b = ax2.twinx()
    ax2c = ax2.twinx()
    x, v = xy(TC)
    ax2.plot(x, v, color=C_TC, lw=0.9)
    x, v = xy(O3)
    ax2b.plot(x, v, color=C_O3, lw=1.0)
    x, v = xy(SO2)
    ax2c.plot(x, v, "o", color=C_SO2, ms=4.4, mec="none", clip_on=False)
    style_time(ax2)
    style_axis(ax2, "black", np.arange(0, 81, 20), (0, 80))
    style_axis(ax2b, C_O3, np.arange(0, 71, 10), (0, 70))
    style_axis(ax2c, C_SO2, np.arange(0, 21, 5), (0, 20))
    ax2c.spines["right"].set_position(("axes", 1.0694))
    for s in ("left", "top", "bottom"):
        ax2c.spines[s].set_visible(False)
    ax2c.patch.set_visible(False)
    ax2.set_ylabel(r"TC ($\mathrm{\mu}$g C/m$^3$)", fontsize=LABEL_FS)
    ax2.yaxis.set_label_coords(-0.039, 0.5)
    ax2b.set_ylabel(r"O$_3$ (ppbv)", fontsize=LABEL_FS, color=C_O3)
    ax2b.yaxis.set_label_coords(1.042, 0.5)
    ax2c.set_ylabel(r"SO$_2$ (ppbv)", fontsize=LABEL_FS, color=C_SO2)
    ax2c.yaxis.set_label_coords(1.104, 0.5)

    # panel 3: wind speed and direction
    ax3 = fig.add_axes([left, 0.036, width, 0.258])
    ax3b = ax3.twinx()
    x, v = xy(WSP)
    ax3.plot(x, v, color=C_WSP, lw=0.9)
    x, v = xy(WDR)
    ax3b.plot(x, v, "o", color=C_WDR, ms=5.2, mec="none", clip_on=False)
    style_time(ax3)
    style_axis(ax3, C_WSP, np.arange(0, 11, 2), (0, 10))
    style_axis(ax3b, C_WDR, np.arange(0, 361, 60), (0, 360))
    ax3.set_ylabel("WSP (m/s)", fontsize=LABEL_FS, color=C_WSP)
    ax3.yaxis.set_label_coords(-0.031, 0.5)
    ax3b.set_ylabel("WDR (deg)", fontsize=LABEL_FS, color=C_WDR)
    ax3b.yaxis.set_label_coords(1.056, 0.5)

    fig.savefig(OUTPUT_IMAGE_FILE, dpi=100)


if __name__ == "__main__":
    main()
